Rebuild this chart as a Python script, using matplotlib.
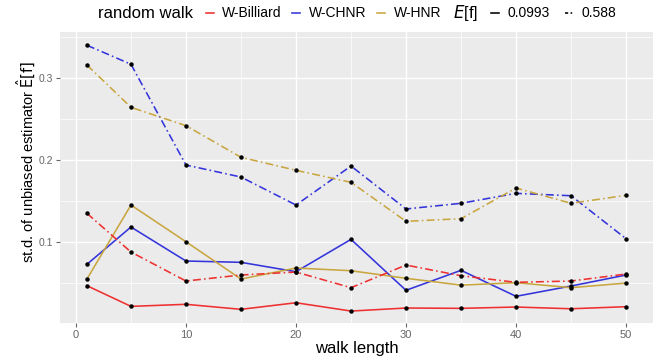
import numpy as np
import matplotlib
matplotlib.use("Agg")
import matplotlib.pyplot as plt
from matplotlib.lines import Line2D

plt.rcParams['font.family'] = ['Liberation Sans', 'DejaVu Sans']

# datos
walk_length = [1, 5, 10, 15, 20, 25, 30, 35, 40, 45, 50]
walks = ["W-Billiard", "W-CHNR", "W-HNR"]
colores = {"W-Billiard": "#EE3030", "W-CHNR": "#3434DC", "W-HNR": "#C8A640"}
ef_niveles = ["0.0993", "0.588"]
estilos = {"0.0993": "-", "0.588": (0, (5, 2, 1, 2))}

sd_billiard_0993 = [0.0473, 0.0222, 0.0247, 0.0186, 0.0266, 0.0165, 0.0202, 0.0198, 0.0214, 0.0193, 0.0218]
sd_chnr_0993 = [0.0733, 0.1186, 0.0773, 0.0757, 0.0643, 0.1036, 0.0417, 0.0660, 0.0344, 0.0469, 0.0603]
sd_hnr_0993 = [0.0554, 0.1453, 0.1007, 0.0554, 0.0688, 0.0655, 0.0563, 0.0480, 0.0510, 0.0449, 0.0505]
sd_billiard_588 = [0.1352, 0.0882, 0.0530, 0.0603, 0.0639, 0.0449, 0.0724, 0.0594, 0.0514, 0.0530, 0.0615]
sd_chnr_588 = [0.3394, 0.3163, 0.1939, 0.1793, 0.1453, 0.1927, 0.1405, 0.1474, 0.1595, 0.1566, 0.1044]
sd_hnr_588 = [0.3154, 0.2640, 0.2417, 0.2033, 0.1875, 0.1729, 0.1255, 0.1287, 0.1660, 0.1474, 0.1571]

series = [
    ("W-Billiard", "0.0993", sd_billiard_0993),
    ("W-CHNR", "0.0993", sd_chnr_0993),
    ("W-HNR", "0.0993", sd_hnr_0993),
    ("W-Billiard", "0.588", sd_billiard_588),
    ("W-CHNR", "0.588", sd_chnr_588),
    ("W-HNR", "0.588", sd_hnr_588),
]

W, H = 667, 362
fig = plt.figure(figsize=(W / 100, H / 100), dpi=100)
ax = fig.add_axes([60 / W, 1 - 323 / H, 593 / W, 291 / H])
ax.set_facecolor("#EBEBEB")
for s in ax.spines.values():
    s.set_visible(False)

for walk, ef, vals in series:
    ax.plot(walk_length, vals, color=colores[walk], linestyle=estilos[ef], lw=1.15, zorder=3)
    ax.plot(walk_length, vals, "o", color="black", ms=2.2, zorder=4)

ax.set_xlim(-1.45, 52.45)
ax.set_ylim(0.002, 0.3555)
ax.set_xticks([0, 10, 20, 30, 40, 50])
ax.set_xticks([5, 15, 25, 35, 45], minor=True)
ax.set_yticks([0.1, 0.2, 0.3])
ax.set_yticklabels(["0.1", "0.2", "0.3"])
ax.set_yticks([0.05, 0.15, 0.25, 0.35], minor=True)
ax.grid(which="major", color="white", lw=1.0, zorder=0)
ax.grid(which="minor", color="white", lw=0.5, zorder=0)
ax.set_axisbelow(True)
ax.tick_params(which="major", length=3, color="#666666", labelcolor="#666666", pad=2)
ax.tick_params(axis="x", labelsize=8)
ax.tick_params(axis="y", labelsize=7.5)
ax.tick_params(which="minor", length=0)

ax.set_xlabel("walk length", fontsize=12, labelpad=1)
ax.set_ylabel(r"st.d. of unbiased estimator $\hat{\mathrm{E}}\mathrm{[f]}$", fontsize=10.5)
ax.yaxis.label.set_va("center")
ax.yaxis.set_label_coords(-34 / 593, (323 - 162) / 291)

# leyenda manual arriba
y_ley = 1 - 13 / H
fig.text(98 / W, y_ley, "random walk", fontsize=12, va="center", ha="left")
pos_walk = [(210, 222), (296, 309), (381, 394)]
for (kx, tx), walk in zip(pos_walk, walks):
    fig.add_artist(Line2D([(kx - 4) / W, (kx + 4) / W], [y_ley, y_ley], color=colores[walk], lw=1.15))
    fig.text(tx / W, y_ley, walk, fontsize=10, va="center", ha="left")
fig.text(453 / W, y_ley, r"$E$[f]", fontsize=12, va="center", ha="left")
pos_ef = [(495, 508), (569, 581)]
estilo_clave = {"0.0993": "-", "0.588": (0, (2, 1.5, 1, 1.5))}
for (kx, tx), ef in zip(pos_ef, ef_niveles):
    fig.add_artist(Line2D([(kx - 4) / W, (kx + 4) / W], [y_ley, y_ley], color="black", lw=1.15,
                          linestyle=estilo_clave[ef]))
    fig.text(tx / W, y_ley, ef, fontsize=10, va="center", ha="left")

fig.savefig("out.png", dpi=100)
